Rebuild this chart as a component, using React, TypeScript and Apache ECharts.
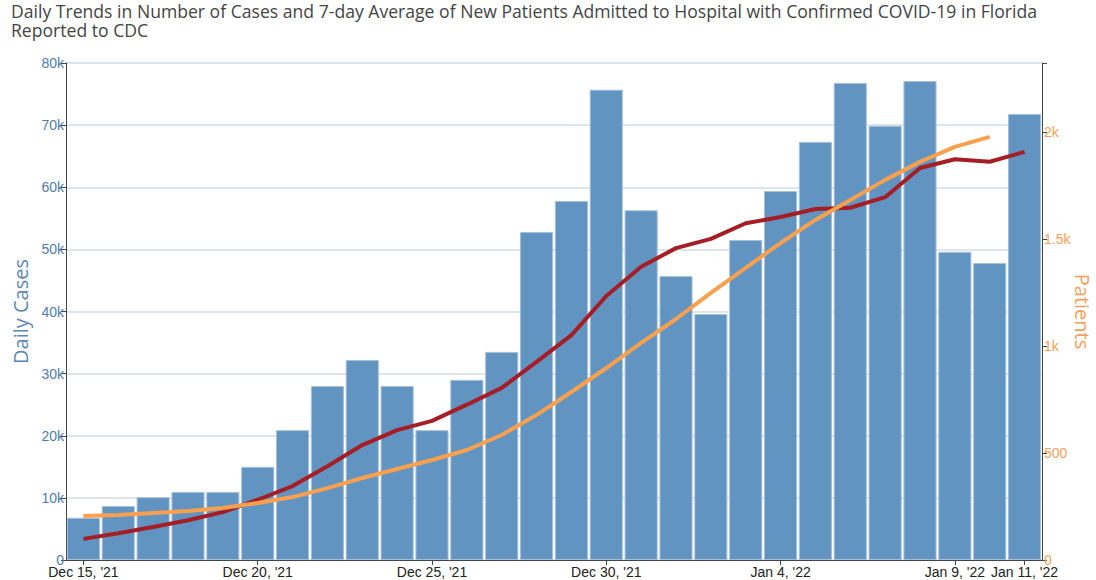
import React, { useEffect, useRef } from "react";
import * as echarts from "echarts";

const dates = [
  "Dec 15, '21", "Dec 16, '21", "Dec 17, '21", "Dec 18, '21", "Dec 19, '21",
  "Dec 20, '21", "Dec 21, '21", "Dec 22, '21", "Dec 23, '21", "Dec 24, '21",
  "Dec 25, '21", "Dec 26, '21", "Dec 27, '21", "Dec 28, '21", "Dec 29, '21",
  "Dec 30, '21", "Dec 31, '21", "Jan 1, '22", "Jan 2, '22", "Jan 3, '22",
  "Jan 4, '22", "Jan 5, '22", "Jan 6, '22", "Jan 7, '22", "Jan 8, '22",
  "Jan 9, '22", "Jan 10, '22", "Jan 11, '22",
];
const shownLabels = [0, 5, 10, 15, 20, 25, 27];

const dailyCases = [
  6800, 8700, 10100, 10950, 10950, 15000, 20900, 28000, 32200, 28000,
  20900, 29000, 33500, 52800, 57800, 75700, 56300, 45700, 39600, 51500,
  59400, 67300, 76800, 69900, 77100, 49600, 47800, 71800,
];
const casesAvg7 = [
  3400, 4300, 5300, 6400, 7700, 9700, 11900, 15100, 18500, 20900,
  22400, 25000, 27700, 31900, 36200, 42500, 47200, 50200, 51700, 54200,
  55200, 56500, 56700, 58400, 63100, 64500, 64100, 65700,
];
const patientsAvg7 = [
  206, 210, 220, 229, 243, 266, 294, 336, 383, 425,
  467, 514, 584, 678, 785, 897, 1014, 1126, 1248, 1365,
  1481, 1589, 1682, 1776, 1860, 1930, 1977, null,
];

const casesTicks = [0, 10000, 20000, 30000, 40000, 50000, 60000, 70000, 80000];
const patientTicks = [0, 500, 1000, 1500, 2000];

const fmtK = (v: number) => (v === 0 ? "0" : v / 1000 + "k");

export default function App() {
  const ref = useRef<HTMLDivElement>(null);
  useEffect(() => {
    if (!ref.current) return;
    const chart = echarts.init(ref.current, undefined, { renderer: "svg" });
    chart.setOption({
      animation: false,
      backgroundColor: "#ffffff",
      title: {
        text:
          "Daily Trends in Number of Cases and 7-day Average of New Patients Admitted to Hospital with Confirmed COVID-19 in Florida\nReported to CDC",
        left: 6,
        top: -4,
        textStyle: {
          fontFamily: "Open Sans",
          fontSize: 17.6,
          fontWeight: "normal",
          color: "#444444",
          lineHeight: 19,
        },
      },
      grid: {
        left: 66,
        right: 54,
        top: 63,
        bottom: 20,
        containLabel: false,
        outerBoundsMode: "none",
      },
      xAxis: {
        type: "category",
        data: dates,
        axisLine: { show: true, lineStyle: { color: "#444444", width: 1 } },
        axisTick: {
          show: true,
          alignWithLabel: true,
          length: 5,
          interval: (i: number) => shownLabels.includes(i),
          lineStyle: { color: "#444444" },
        },
        axisLabel: {
          interval: (i: number) => shownLabels.includes(i),
          color: "#222222",
          fontFamily: "Arial, Liberation Sans",
          fontSize: 14,
          margin: 5,
          hideOverlap: false,
        },
      },
      yAxis: [
        {
          type: "value",
          min: 0,
          max: 80000,
          interval: 10000,
          name: "Daily Cases",
          nameLocation: "middle",
          nameGap: 36,
          nameMoveOverlap: false,
          nameTextStyle: { color: "#5b86b5", fontSize: 20, fontFamily: "Open Sans" },
          axisLine: { show: true, lineStyle: { color: "#444444" } },
          axisTick: { show: true, length: 5, lineStyle: { color: "#444444" } },
          axisLabel: {
            formatter: (v: number) => (casesTicks.includes(v) ? fmtK(v) : ""),
            color: "#4f7cac",
            fontFamily: "Arial, Liberation Sans",
            fontSize: 14,
            margin: 2,
          },
          splitLine: { show: true, lineStyle: { color: "#d2dce7", width: 1.5 } },
        },
        {
          type: "value",
          min: 0,
          max: 2322,
          interval: 500,
          name: "Patients",
          nameLocation: "middle",
          nameGap: 30,
          nameRotate: -90,
          nameMoveOverlap: false,
          nameTextStyle: { color: "#f5a05a", fontSize: 20, fontFamily: "Open Sans" },
          position: "right",
          axisLine: { show: true, lineStyle: { color: "#444444" } },
          axisTick: { show: true, length: 5, lineStyle: { color: "#444444" } },
          axisLabel: {
            formatter: (v: number) =>
              patientTicks.includes(v) ? (v >= 1000 ? v / 1000 + "k" : String(v)) : "",
            color: "#f5a05a",
            fontFamily: "Arial, Liberation Sans",
            fontSize: 14,
            margin: 2,
          },
          splitLine: { show: false },
        },
      ],
      series: [
        {
          name: "Daily Cases",
          type: "bar",
          yAxisIndex: 0,
          data: dailyCases,
          barCategoryGap: "5%",
          itemStyle: { color: "#6294c1", borderColor: "#a6c0da", borderWidth: 1 },
          z: 1,
        },
        {
          name: "7-day Average Cases",
          type: "line",
          yAxisIndex: 0,
          data: casesAvg7,
          symbol: "none",
          lineStyle: { color: "#a51e26", width: 4 },
          z: 3,
        },
        {
          name: "7-day Average Patients",
          type: "line",
          yAxisIndex: 1,
          data: patientsAvg7,
          symbol: "none",
          connectNulls: false,
          lineStyle: { color: "#f9a04f", width: 4 },
          z: 4,
        },
      ],
    });
    return () => chart.dispose();
  }, []);
  return (
    <div
      ref={ref}
      style={{ position: "absolute", left: 0, top: 0, width: 1096, height: 580 }}
    />
  );
}
